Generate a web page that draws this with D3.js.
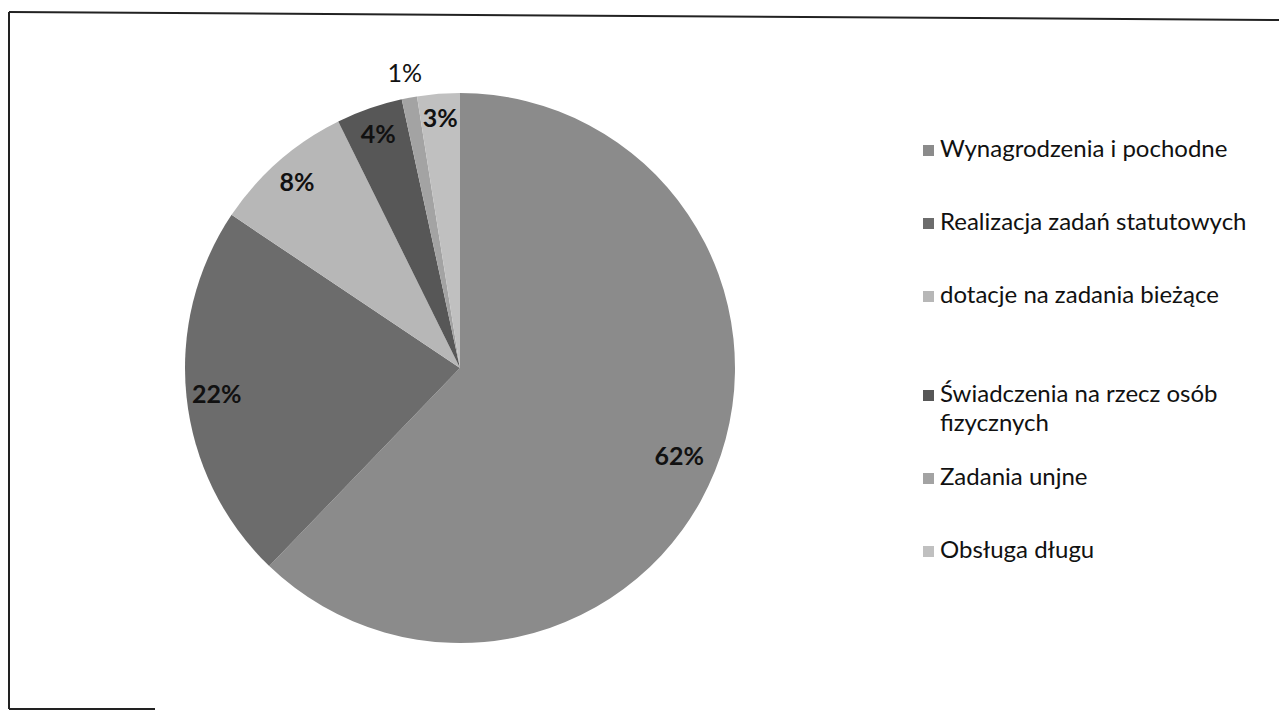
<!DOCTYPE html>
<html>
<head>
<meta charset="utf-8">
<script src="https://cdn.jsdelivr.net/npm/d3@7"></script>
<style>
body { margin: 0; background: #fff; }
svg { display: block; }
</style>
</head>
<body>
<div id="chart"></div>
<script>
// categories and shares (percent)
const categories = [
	"Wynagrodzenia i pochodne",
	"Realizacja zadań statutowych",
	"dotacje na zadania bieżące",
	"Świadczenia na rzecz osób fizycznych",
	"Zadania unjne",
	"Obsługa długu"
]
const values = [62.2, 22.2, 8.3, 3.9, 0.9, 2.5]
const labels = ["62%", "22%", "8%", "4%", "1%", "3%"]
// grey tones of the scan
const colors = ["#8b8b8b", "#6c6c6c", "#b7b7b7", "#575757", "#a3a3a3", "#c0c0c0"]

const width = 1279
const height = 711

const svg = d3.select("#chart")
	.append("svg")
	.attr("width", width)
	.attr("height", height)

// chart area frame (scanned page, only partly visible)
const frame = svg.append("g")
	.attr("fill", "none")
	.attr("stroke", "#222")
	.attr("stroke-width", 2)
frame.append("line").attr("x1", 9).attr("y1", 12).attr("x2", width).attr("y2", 20)
frame.append("line").attr("x1", 9).attr("y1", 12).attr("x2", 9).attr("y2", 709)
frame.append("line").attr("x1", 9).attr("y1", 709).attr("x2", 155).attr("y2", 709)

const cx = 460, cy = 368, r = 275

const pie = d3.pie().sort(null).value(d => d)
const arcs = pie(values)
const arc = d3.arc().innerRadius(0).outerRadius(r)

const g = svg.append("g")
	.attr("transform", `translate(${cx},${cy})`)

g.selectAll("path")
	.data(arcs)
	.join("path")
	.attr("d", arc)
	.attr("fill", (d, i) => colors[i])

// data labels: inside for the large slices, outside for the smallest one
const labelRadius = [0.86, 0.89, 0.9, 0.9, 1.09, 0.91]

g.selectAll("text")
	.data(arcs)
	.join("text")
	.attr("transform", (d, i) => {
		const a = (d.startAngle + d.endAngle) / 2
		const rr = r * labelRadius[i]
		return `translate(${Math.sin(a) * rr},${-Math.cos(a) * rr})`
	})
	.attr("text-anchor", "middle")
	.attr("dy", "0.35em")
	.style("font-family", "Lato, 'Open Sans', sans-serif")
	.style("font-size", "25px")
	.style("font-weight", (d, i) => i == 4 ? "normal" : "bold")
	.attr("fill", "#111")
	.text((d, i) => labels[i])

// legend
const legendX = 923
const legendY = [157, 230, 303, 402, 485, 558]
const legend = svg.append("g")
	.style("font-family", "Lato, 'Open Sans', sans-serif")
	.style("font-size", "24px")
	.attr("fill", "#111")

const items = legend.selectAll("g")
	.data(categories)
	.join("g")
	.attr("transform", (d, i) => `translate(${legendX},${legendY[i]})`)

items.append("rect")
	.attr("x", 0)
	.attr("y", -12)
	.attr("width", 11)
	.attr("height", 11)
	.attr("fill", (d, i) => colors[i])

items.each(function (d, i) {
	// the fourth entry wraps onto two lines
	const lines = i == 3 ? ["Świadczenia na rzecz osób", "fizycznych"] : [d]
	lines.forEach((l, j) => {
		d3.select(this).append("text")
			.attr("x", 17)
			.attr("y", j * 29)
			.text(l)
	})
})
</script>
</body>
</html>
